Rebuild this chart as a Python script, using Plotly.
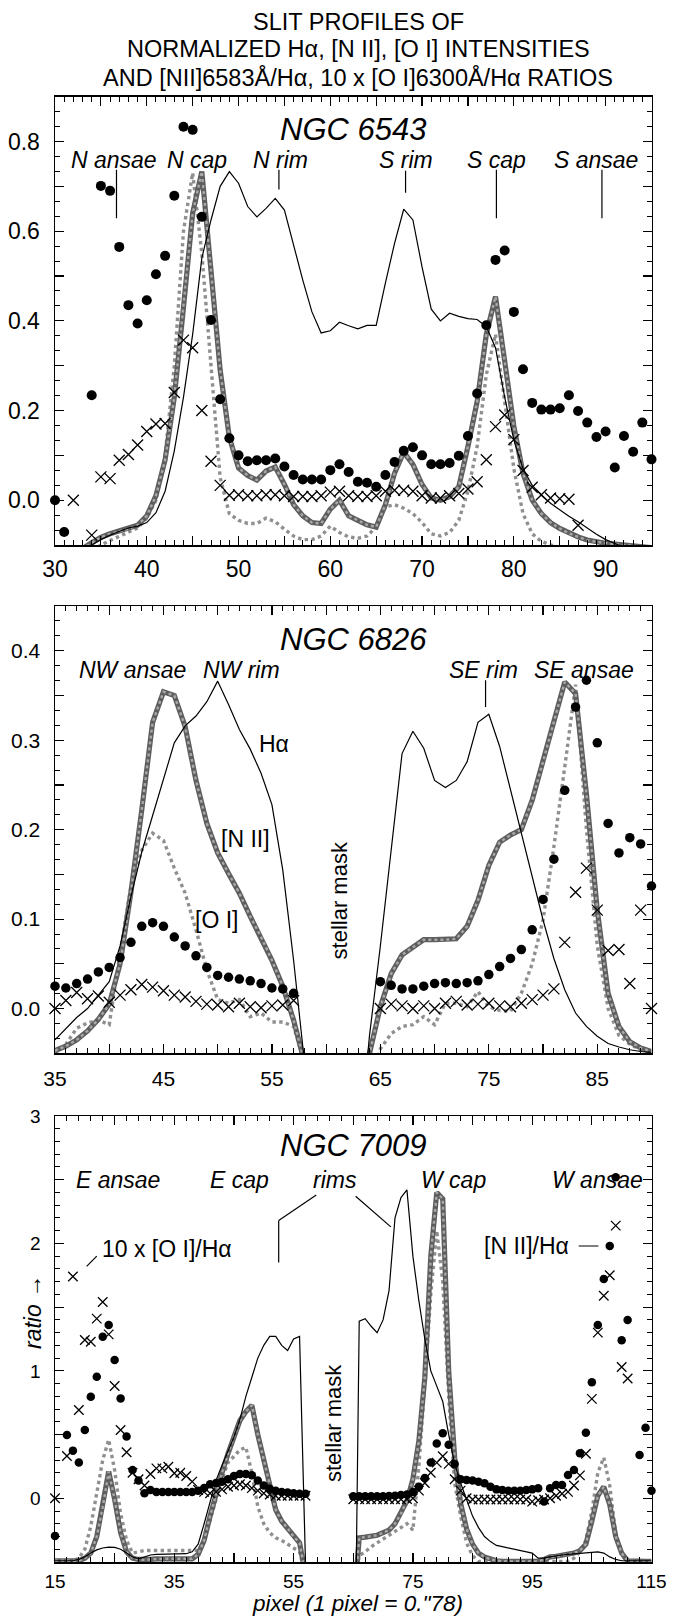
import plotly.graph_objects as go

N = None
FONT = "Liberation Sans, Arial, Helvetica, sans-serif"

# ---------------- Panel 1 : NGC 6543 (pixels 30..95) ----------------
pix1 = list(range(30, 96))
ha1 = [-0.14, -0.13, -0.12, -0.11, -0.1, -0.088, -0.078, -0.07, -0.062, -0.058,
       -0.05, -0.028, 0.02, 0.11, 0.23, 0.37, 0.54, 0.625, 0.70, 0.733,
       0.707, 0.655, 0.632, 0.651, 0.673, 0.647, 0.569, 0.491, 0.42, 0.373,
       0.378, 0.397, 0.389, 0.382, 0.39, 0.39, 0.484, 0.573, 0.649, 0.625,
       0.52, 0.426, 0.40, 0.417, 0.41, 0.405, 0.403, 0.387, 0.34, 0.23,
       0.134, 0.07, 0.033, 0.011, -0.007, -0.022, -0.036, -0.048, -0.063, -0.076,
       -0.088, -0.097, -0.105, -0.11, -0.115, -0.12]
n2_1 = [-0.14, -0.13, -0.12, -0.108, -0.095, -0.083, -0.075, -0.069, -0.064, -0.056,
        -0.035, 0.01, 0.09, 0.23, 0.43, 0.64, 0.733, 0.52, 0.29, 0.14,
        0.072, 0.055, 0.045, 0.065, 0.074, 0.035, -0.01, -0.035, -0.05, -0.052,
        -0.02, 0.0, -0.035, -0.045, -0.055, -0.06, -0.01, 0.06, 0.107, 0.08,
        0.035, 0.005, 0.0, 0.008, 0.03, 0.12, 0.22, 0.37, 0.454, 0.31,
        0.165, 0.06, 0.0, -0.03, -0.05, -0.063, -0.074, -0.082, -0.089, -0.093,
        -0.096, -0.098, -0.1, -0.102, -0.104, -0.106]
o1_1 = [-0.15, -0.14, -0.13, -0.122, -0.115, -0.1, -0.09, -0.08, -0.072, -0.062,
        -0.04, 0.0, 0.1, 0.3, 0.6, 0.73, 0.55, 0.3, 0.05, -0.03,
        -0.045, -0.052, -0.052, -0.04, -0.048, -0.065, -0.08, -0.088, -0.088, -0.08,
        -0.058, -0.072, -0.082, -0.085, -0.08, -0.06, -0.015, -0.01, -0.018, -0.03,
        -0.05, -0.075, -0.08, -0.072, -0.045, 0.02, 0.12, 0.28, 0.37, 0.22,
        0.07, -0.03, -0.075, -0.092, -0.1, -0.105, -0.11, -0.115, -0.12, -0.125,
        -0.13, -0.13, -0.13, -0.13, -0.13, -0.13]
rn2_1 = [0.0, -0.071, N, N, 0.234, 0.701, 0.69, 0.565, 0.435, 0.394,
         0.446, 0.504, 0.545, 0.679, 0.833, 0.826, 0.632, 0.402, 0.225, 0.138,
         0.1, 0.087, 0.089, 0.089, 0.093, 0.075, 0.056, 0.046, 0.046, 0.046,
         0.067, 0.08, 0.063, 0.041, 0.039, 0.03, 0.056, 0.085, 0.11, 0.118,
         0.1, 0.08, 0.08, 0.083, 0.099, 0.143, 0.238, 0.39, 0.536, 0.557,
         0.42, 0.292, 0.217, 0.202, 0.202, 0.205, 0.234, 0.199, 0.173, 0.141,
         0.153, 0.073, 0.143, 0.108, 0.173, 0.091]
ro1_1 = [N, N, 0.0, N, -0.078, 0.052, 0.048, 0.089, 0.102, 0.123,
         0.153, 0.17, 0.171, 0.24, 0.357, 0.34, 0.2, 0.087, 0.033, 0.011,
         0.012, 0.01, 0.01, 0.012, 0.012, 0.01, 0.008, 0.008, 0.008, 0.01,
         0.018, 0.02, 0.01, 0.008, 0.008, 0.01, 0.02, 0.022, 0.022, 0.02,
         0.01, 0.005, 0.005, 0.01, 0.015, 0.025, 0.041, 0.09, 0.164, 0.19,
         0.135, 0.066, 0.029, 0.012, 0.005, 0.003, 0.002, -0.056, N, N,
         N, N, N, N, N, N]

# ---------------- Panel 2 : NGC 6826 (pixels 35..90) ----------------
pix2 = list(range(35, 91))
ha2 = [-0.035, -0.022, -0.01, 0.0, 0.015, 0.03, 0.07, 0.125, 0.175, 0.215,
       0.255, 0.297, 0.316, 0.327, 0.343, 0.366, 0.34, 0.312, 0.29, 0.263,
       0.228, 0.155, 0.054, -0.06, N, N, N, N, -0.16, -0.03,
       0.07, 0.18, 0.285, 0.31, 0.291, 0.255, 0.247, 0.255, 0.276, 0.32,
       0.329, 0.293, 0.244, 0.196, 0.147, 0.099, 0.056, 0.021, -0.005, -0.02,
       -0.031, -0.039, -0.043, -0.046, -0.048, -0.049]
n2_2 = [-0.047, -0.042, -0.035, -0.025, -0.012, 0.005, 0.05, 0.13, 0.222, 0.32,
        0.354, 0.35, 0.315, 0.255, 0.207, 0.174, 0.151, 0.129, 0.103, 0.08,
        0.054, 0.025, -0.013, -0.06, N, N, N, N, -0.2, -0.05,
        0.002, 0.039, 0.06, 0.069, 0.077, 0.077, 0.077, 0.078, 0.092, 0.121,
        0.16, 0.186, 0.194, 0.2, 0.233, 0.276, 0.319, 0.365, 0.352, 0.24,
        0.11, 0.017, -0.02, -0.037, -0.044, -0.048]
o1_2 = [-0.05, -0.04, -0.022, -0.016, -0.013, -0.018, 0.062, 0.136, 0.177, 0.196,
        0.188, 0.157, 0.129, 0.088, 0.043, 0.01, 0.006, 0.01, -0.009, -0.005,
        -0.015, -0.015, -0.02, -0.06, N, N, N, N, N, -0.09,
        -0.045, -0.028, -0.02, -0.018, -0.009, -0.018, 0.006, 0.006, 0.002, 0.019,
        0.002, -0.002, -0.003, 0.017, 0.05, 0.099, 0.181, 0.27, 0.362, 0.2,
        0.07, 0.0, -0.03, -0.04, -0.046, -0.05]
rn2_2 = [0.025, 0.023, 0.028, 0.033, 0.041, 0.046, 0.057, 0.074, 0.092, 0.096,
         0.092, 0.08, 0.07, 0.059, 0.046, 0.037, 0.035, 0.033, 0.031, 0.028,
         0.023, 0.022, 0.017, N, N, N, N, N, N, N,
         0.03, 0.026, 0.022, 0.022, 0.025, 0.028, 0.029, 0.028, 0.029, 0.031,
         0.038, 0.047, 0.056, 0.066, 0.088, 0.122, 0.167, 0.244, 0.337, 0.367,
         0.297, 0.207, 0.174, 0.191, 0.184, 0.137]
ro1_2 = [0.0, 0.009, 0.018, 0.011, 0.014, 0.007, 0.015, 0.021, 0.027, 0.024,
         0.02, 0.015, 0.013, 0.008, 0.005, 0.004, 0.002, 0.006, 0.002, 0.001,
         0.003, 0.004, 0.009, N, N, N, N, N, N, N,
         0.0, 0.005, 0.003, 0.0, 0.003, 0.0, 0.006, 0.008, 0.004, 0.005,
         0.006, 0.003, 0.002, 0.006, 0.01, 0.015, 0.022, 0.074, 0.13, 0.157,
         0.11, 0.065, 0.066, 0.028, 0.11, 0.0]

# ---------------- Panel 3 : NGC 7009 (pixels 15..115) ----------------
pix3 = list(range(15, 116))
ha3 = [-0.49, -0.49, -0.49, -0.49, -0.48, -0.46, -0.43, -0.405, -0.39, -0.383,
       -0.385, -0.4, -0.43, -0.46, -0.475, -0.46, -0.445, -0.44, -0.44, -0.44,
       -0.44, -0.44, -0.435, -0.42, -0.36, -0.2, -0.02, 0.14, 0.26, 0.37,
       0.48, 0.62, 0.8, 0.95, 1.1, 1.2, 1.27, 1.27, 1.2, 1.16,
       1.25, 1.27, -0.52, N, N, N, N, N, N, N,
       -2.5, 1.39, 1.41, 1.35, 1.3, 1.4, 1.63, 2.2, 2.36, 2.42,
       1.9, 1.55, 1.25, 1.0, 0.88, 0.76, 0.5, 0.27, 0.12, -0.01,
       -0.14, -0.23, -0.3, -0.34, -0.37, -0.38, -0.39, -0.4, -0.405, -0.42,
       -0.43, -0.47, -0.47, -0.46, -0.45, -0.445, -0.44, -0.435, -0.43, -0.43,
       -0.425, -0.42, -0.43, -0.46, -0.48, -0.49, -0.49, -0.49, -0.49, -0.49,
       -0.49]
n2_3 = [-0.49, -0.49, -0.49, -0.49, -0.49, -0.47, -0.43, -0.3, -0.07, 0.21,
        -0.01, -0.27, -0.42, -0.47, -0.48, -0.485, -0.48, -0.475, -0.475, -0.475,
        -0.475, -0.475, -0.475, -0.475, -0.44, -0.33, -0.14, 0.04, 0.2, 0.35,
        0.48, 0.61, 0.68, 0.73, 0.5, 0.3, 0.09, -0.09, -0.18, -0.235,
        -0.3, -0.35, -0.6, N, N, N, N, N, N, N,
        -0.9, -0.31, -0.305, -0.3, -0.29, -0.27, -0.25, -0.2, -0.12, -0.02,
        0.15, 0.45, 0.95, 1.9, 2.4, 2.35, 1.0, 0.32, -0.04, -0.24,
        -0.36, -0.43, -0.46, -0.48, -0.49, -0.495, -0.495, -0.495, -0.495, -0.495,
        -0.495, -0.495, -0.48, -0.46, -0.455, -0.45, -0.44, -0.43, -0.41, -0.36,
        -0.18, 0.02, 0.09, -0.05, -0.3, -0.43, -0.49, -0.495, -0.495, -0.495,
        -0.495]
o1_3 = [-0.495, -0.495, -0.495, -0.495, -0.47, -0.4, -0.22, 0.04, 0.3, 0.46,
        0.22, -0.12, -0.33, -0.43, -0.42, -0.41, -0.41, -0.41, -0.41, -0.41,
        -0.41, -0.41, -0.41, -0.41, -0.41, -0.33, -0.17, -0.01, 0.15, 0.28,
        0.33, 0.38, 0.4, 0.2, -0.065, -0.2, -0.27, -0.31, -0.33, -0.36,
        -0.39, -0.42, -0.6, N, N, N, N, N, N, N,
        -0.7, -0.45, -0.42, -0.38, -0.35, -0.32, -0.29, -0.26, -0.23, -0.2,
        -0.25, 0.25, 0.9, 1.6, 2.1, 1.7, 0.8, 0.12, -0.14, -0.35,
        -0.45, -0.495, -0.495, -0.495, -0.495, -0.495, -0.495, -0.495, -0.495, -0.495,
        -0.495, -0.495, -0.495, -0.495, -0.495, -0.495, -0.495, -0.47, -0.42, -0.33,
        -0.1, 0.2, 0.32, 0.1, -0.28, -0.45, -0.495, -0.495, -0.495, -0.495,
        -0.495]
rn2_3 = [-0.295, N, 0.497, 0.374, 0.28, 0.536, 0.797, 0.954, 1.268, 1.36,
         1.085, 0.784, 0.484, 0.222, 0.14, 0.04, 0.065, 0.05, 0.05, 0.05,
         0.05, 0.05, 0.05, 0.05, 0.06, 0.08, 0.11, 0.12, 0.13, 0.15,
         0.175, 0.19, 0.19, 0.18, 0.14, 0.1, 0.075, 0.06, 0.05, 0.045,
         0.04, 0.035, 0.035, N, N, N, N, N, N, N,
         0.015, 0.015, 0.015, 0.015, 0.015, 0.015, 0.018, 0.02, 0.025, 0.03,
         0.05, 0.09, 0.16, 0.28, 0.43, 0.51, 0.42, 0.27, 0.15, 0.144,
         0.139, 0.13, 0.118, 0.09, 0.07, 0.065, 0.06, 0.06, 0.06, 0.065,
         0.07, 0.078, -0.026, 0.078, 0.105, 0.105, 0.183, 0.222, 0.353, 0.515,
         0.91, 1.36, 1.72, 1.98, 2.52, 1.24, 1.4, N, 0.34, 0.554,
         0.06]
ro1_3 = [0.0, N, 0.332, 1.74, 0.693, 1.242, 1.229, 1.41, 1.54, 1.286,
         0.881, 0.536, 0.361, 0.2, 0.15, 0.1, 0.19, 0.235, 0.235, 0.248,
         0.196, 0.2, 0.175, 0.131, 0.065, 0.05, 0.04, 0.05, 0.07, 0.09,
         0.1, 0.11, 0.1, 0.08, 0.06, 0.04, 0.03, 0.02, 0.02, 0.02,
         0.02, 0.02, 0.02, N, N, N, N, N, N, N,
         -0.008, -0.008, -0.008, -0.008, -0.008, -0.008, -0.008, -0.008, -0.008, -0.005,
         0.0, 0.06, 0.12, 0.2, 0.28, 0.33, 0.27, 0.15, 0.06, 0.0,
         -0.01, -0.01, -0.01, -0.01, -0.01, -0.01, -0.01, -0.01, -0.01, -0.01,
         -0.026, -0.015, -0.01, 0.0, 0.02, 0.035, 0.05, 0.1, 0.18, 0.35,
         0.78, 1.3, 1.59, 1.75, 2.14, 1.03, 0.94, N, N, N,
         N]

# ---------------- text / labels ----------------
title_lines = ["SLIT PROFILES OF",
               "NORMALIZED Hα, [N II], [O I] INTENSITIES",
               "AND [NII]6583Å/Hα, 10 x [O I]6300Å/Hα RATIOS"]
names = ["NGC 6543", "NGC 6826", "NGC 7009"]
labels1 = ["N ansae", "N cap", "N rim", "S rim", "S cap", "S ansae"]
labx1 = [36.4, 45.5, 54.6, 68.2, 78.1, 88.9]
labels2 = ["NW ansae", "NW rim", "SE rim", "SE ansae"]
labx2 = [42.1, 52.2, 74.5, 83.8]
labels3 = ["E ansae", "E cap", "rims", "W cap", "W ansae"]
labx3 = [25.6, 45.9, 61.9, 81.8, 105.9]

XD = [55 / 674, 651.5 / 674]
H = 1619
YD = [[1 - 545 / H, 1 - 96.7 / H],
      [1 - 1053.3 / H, 1 - 606 / H],
      [1 - 1562 / H, 1 - 1116 / H]]

fig = go.Figure()


def add_panel(idx, pix, ha, n2, o1, rn2, ro1, msize, xsize):
    xa = "x" if idx == 1 else f"x{idx}"
    ya = "y" if idx == 1 else f"y{idx}"
    common = dict(x=pix, xaxis=xa, yaxis=ya, showlegend=False, hoverinfo="skip")
    fig.add_trace(go.Scatter(y=o1, mode="lines", connectgaps=False,
                             line=dict(color="#8f8f8f", width=3.4, dash="dot"), **common))
    fig.add_trace(go.Scatter(y=n2, mode="lines", connectgaps=False,
                             line=dict(color="#5e5e5e", width=5.2), **common))
    fig.add_trace(go.Scatter(y=n2, mode="lines", connectgaps=False,
                             line=dict(color="#a8a8a8", width=2.4, dash="dot"), **common))
    fig.add_trace(go.Scatter(y=ha, mode="lines", connectgaps=False,
                             line=dict(color="black", width=1.2), **common))
    fig.add_trace(go.Scatter(y=ro1, mode="markers", cliponaxis=False,
                             marker=dict(symbol="x-thin", size=xsize, color="black",
                                         line=dict(width=1.3, color="black")), **common))
    fig.add_trace(go.Scatter(y=rn2, mode="markers", cliponaxis=False,
                             marker=dict(symbol="circle", size=msize, color="black"), **common))


add_panel(1, pix1, ha1, n2_1, o1_1, rn2_1, ro1_1, 10, 11)
add_panel(2, pix2, ha2, n2_2, o1_2, rn2_2, ro1_2, 9.5, 11)
add_panel(3, pix3, ha3, n2_3, o1_3, rn2_3, ro1_3, 8.5, 9.5)


def frange(a, b, s):
    out, v = [], a
    while v <= b + 1e-9:
        out.append(round(v, 4))
        v += s
    return out


def xaxis(domain, rng, major, labeled, minor_dt, fsize, anchor, standoff):
    tv = frange(rng[0], rng[1], major)
    tt = [str(int(round(v))) if any(abs(v - l) < 1e-6 for l in labeled) else "" for v in tv]
    return dict(domain=domain, range=rng, anchor=anchor, tickmode="array", tickvals=tv,
                ticktext=tt, ticks="inside", ticklen=9, tickwidth=1.2, tickcolor="black",
                minor=dict(tickmode="linear", tick0=rng[0], dtick=minor_dt, ticks="inside",
                           ticklen=5, tickwidth=1, tickcolor="black", showgrid=False),
                showline=True, linecolor="black", linewidth=1.5, mirror="allticks",
                showgrid=False, zeroline=False, automargin=False,
                ticklabeloverflow="allow",
                tickfont=dict(family=FONT, size=fsize, color="black"),
                ticklabelstandoff=standoff)


def yaxis(domain, rng, major, labeled, fmt, minor_dt, fsize, anchor):
    tv = frange(rng[0], rng[1], major)
    tt = [fmt.format(v) if any(abs(v - l) < 1e-6 for l in labeled) else "" for v in tv]
    return dict(domain=domain, range=rng, anchor=anchor, tickmode="array", tickvals=tv,
                ticktext=tt, ticks="inside", ticklen=9, tickwidth=1.2, tickcolor="black",
                minor=dict(tickmode="linear", tick0=0, dtick=minor_dt, ticks="inside",
                           ticklen=5, tickwidth=1, tickcolor="black", showgrid=False),
                showline=True, linecolor="black", linewidth=1.5, mirror="allticks",
                showgrid=False, zeroline=False, automargin=False,
                ticklabeloverflow="allow",
                tickfont=dict(family=FONT, size=fsize, color="black"),
                ticklabelstandoff=9)


fig.update_layout(
    width=674, height=1619, margin=dict(l=0, r=0, t=0, b=0),
    paper_bgcolor="white", plot_bgcolor="white",
    xaxis=xaxis(XD, [30, 95], 5, [30, 40, 50, 60, 70, 80, 90], 1, 23, "y", 3),
    yaxis=yaxis(YD[0], [-0.1, 0.9], 0.1, [0, 0.2, 0.4, 0.6, 0.8], "{:.1f}", 1 / 30, 23, "x"),
    xaxis2=xaxis(XD, [35, 90], 5, [35, 45, 55, 65, 75, 85], 1, 21, "y2", 6),
    yaxis2=yaxis(YD[1], [-0.05, 0.45], 0.05, [0, 0.1, 0.2, 0.3, 0.4], "{:.1f}", 1 / 60, 21, "x2"),
    xaxis3=xaxis(XD, [15, 115], 10, [15, 35, 55, 75, 95, 115], 2, 19, "y3", 2),
    yaxis3=yaxis(YD[2], [-0.5, 3], 0.5, [0, 1, 2, 3], "{:.0f}", 0.1, 19, "x3"),
)

ann = []
# title
for i, (t, py) in enumerate(zip(title_lines, [21.7, 48.7, 77.5])):
    ann.append(dict(text=t, xref="paper", yref="paper", x=358 / 674, y=1 - py / H,
                    showarrow=False, xanchor="center", yanchor="middle",
                    font=dict(family=FONT, size=23.5, color="black")))


def A(text, x, y, ax, size=23, italic=True, angle=0):
    ann.append(dict(text=(f"<i>{text}</i>" if italic else text), x=x, y=y,
                    xref=ax[0], yref=ax[1], showarrow=False, xanchor="center",
                    yanchor="middle", textangle=angle,
                    font=dict(family=FONT, size=size, color="black")))


A(names[0], 62.5, 0.826, ("x", "y"), size=31)
A(names[1], 62.5, 0.412, ("x2", "y2"), size=31)
A(names[2], 65.0, 2.77, ("x3", "y3"), size=31)
for t, x in zip(labels1, labx1):
    A(t, x, 0.759, ("x", "y"))
for t, x in zip(labels2, labx2):
    A(t, x, 0.379, ("x2", "y2"))
for t, x in zip(labels3, labx3):
    A(t, x, 2.50, ("x3", "y3"))
A("Hα", 55.2, 0.296, ("x2", "y2"), italic=False)
A("[N II]", 52.6, 0.19, ("x2", "y2"), italic=False)
A("[O I]", 49.9, 0.099, ("x2", "y2"), italic=False)
A("stellar mask", 61.2, 0.121, ("x2", "y2"), size=22, italic=False, angle=-90)
A("stellar mask", 61.6, 0.59, ("x3", "y3"), size=22, italic=False, angle=-90)
A("10 x [O I]/Hα", 33.7, 1.96, ("x3", "y3"), italic=False)
A("[N II]/Hα", 94.1, 1.98, ("x3", "y3"), italic=False)
ann.append(dict(text="<i>ratio →</i>", xref="paper", yref="paper", x=33 / 674,
                y=1 - 1312 / H, showarrow=False, textangle=-90,
                xanchor="center", yanchor="middle",
                font=dict(family=FONT, size=23, color="black")))
ann.append(dict(text="<i>pixel (1 pixel = 0.\"78)</i>", xref="paper", yref="paper",
                x=357 / 674, y=1 - 1603 / H, showarrow=False,
                xanchor="center", yanchor="middle",
                font=dict(family=FONT, size=22.5, color="black")))
fig.update_layout(annotations=ann)

shapes = []


def L(x0, y0, x1, y1, ax):
    shapes.append(dict(type="line", x0=x0, y0=y0, x1=x1, y1=y1, xref=ax[0], yref=ax[1],
                       line=dict(color="black", width=1.2)))


# NGC 6543 marker ticks
L(36.7, 0.737, 36.7, 0.629, ("x", "y"))
L(54.4, 0.737, 54.4, 0.693, ("x", "y"))
L(68.2, 0.735, 68.2, 0.686, ("x", "y"))
L(78.1, 0.737, 78.1, 0.629, ("x", "y"))
L(89.6, 0.737, 89.6, 0.629, ("x", "y"))
# NGC 6826
L(74.7, 0.367, 74.7, 0.337, ("x2", "y2"))
# NGC 7009 rims and leaders
L(58.8, 2.38, 52.5, 2.18, ("x3", "y3"))
L(52.5, 2.18, 52.5, 1.85, ("x3", "y3"))
L(65.4, 2.37, 71.3, 2.13, ("x3", "y3"))
L(20.3, 1.82, 22.0, 1.90, ("x3", "y3"))
L(102.8, 1.98, 106.1, 1.98, ("x3", "y3"))
fig.update_layout(shapes=shapes)

fig.write_html("out.html",
               config={"displayModeBar": False, "staticPlot": True},
               post_script="document.body.style.margin='0px';"
                           "document.body.style.padding='0px';"
                           "document.body.style.overflow='hidden';")
